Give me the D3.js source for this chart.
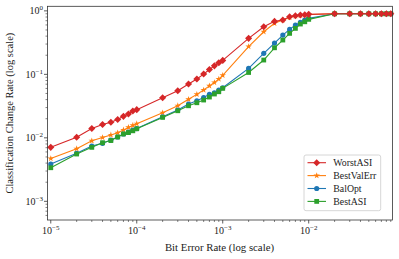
<!DOCTYPE html>
<html><head><meta charset="utf-8">
<script src="https://cdn.jsdelivr.net/npm/d3@7"></script>
<style>
body{margin:0;background:#fff;}
svg{display:block;font-family:"Liberation Serif","DejaVu Serif",serif;}
</style></head>
<body><svg id="c" width="399" height="259"></svg>
<script>
const bitErrorRates = [1e-5,2e-5,3e-5,4e-5,5e-5,6e-5,7e-5,8e-5,9e-5,
  1e-4,2e-4,3e-4,4e-4,5e-4,6e-4,7e-4,8e-4,9e-4,
  1e-3,2e-3,3e-3,4e-3,5e-3,6e-3,7e-3,8e-3,9e-3,
  1e-2,2e-2,3e-2,4e-2,5e-2,6e-2,7e-2,8e-2,9e-2];
const worstASI = [0.00708,0.0102,0.0140,0.0162,0.0176,0.0194,0.0218,0.0237,0.0264,
  0.0278,0.0427,0.0552,0.0703,0.0843,0.101,0.119,0.136,0.152,
  0.166,0.369,0.562,0.683,0.716,0.807,0.837,0.859,0.868,
  0.881,0.90,0.90,0.90,0.90,0.90,0.90,0.90,0.90];
const bestValErr = [0.00472,0.00673,0.00897,0.0101,0.0111,0.0120,0.0133,0.0146,0.0157,
  0.0167,0.0248,0.0320,0.0404,0.0484,0.0566,0.0659,0.0743,0.0843,
  0.0964,0.274,0.469,0.636,0.716,0.784,0.83,0.85,0.862,
  0.875,0.90,0.90,0.90,0.90,0.90,0.90,0.90,0.90];
const balOpt = [0.00387,0.00570,0.00743,0.00819,0.00923,0.0103,0.0115,0.0123,0.0133,
  0.0140,0.0215,0.0274,0.0341,0.0384,0.0431,0.0484,0.0513,0.0566,
  0.0615,0.124,0.214,0.311,0.416,0.511,0.598,0.659,0.716,
  0.762,0.90,0.90,0.90,0.90,0.90,0.90,0.90,0.90];
const bestASI = [0.00338,0.00556,0.00708,0.00838,0.00906,0.0103,0.0115,0.0121,0.0129,
  0.0139,0.0210,0.0267,0.0320,0.0357,0.0394,0.0439,0.0490,0.0532,
  0.0602,0.107,0.168,0.262,0.347,0.442,0.530,0.620,0.673,
  0.735,0.90,0.90,0.90,0.90,0.90,0.90,0.90,0.90];
const seriesNames = ["WorstASI","BestValErr","BalOpt","BestASI"];
const xMajorTicks = [1e-5,1e-4,1e-3,1e-2];
const xTickExponents = ["−5","−4","−3","−2"];
const yMajorTicks = [1,1e-1,1e-2,1e-3];
const yTickExponents = ["0","−1","−2","−3"];

const series = [
  {name:seriesNames[0], values:worstASI, color:"#d62728", shape:"diamond"},
  {name:seriesNames[1], values:bestValErr, color:"#ff7f0e", shape:"star"},
  {name:seriesNames[2], values:balOpt, color:"#1f77b4", shape:"circle"},
  {name:seriesNames[3], values:bestASI, color:"#2ca02c", shape:"square"}
];

const L=47.5, R=392.5, T=6.3, B=220;
const x = d3.scaleLog().domain([0.916e-5, 0.0943]).range([L,R]);
const y = d3.scaleLog().domain([5.08e-4, 1.18]).range([B,T]);
const svg = d3.select("#c");

function symbolPath(shape){
  if(shape==="diamond") return d3.symbol(d3.symbolSquare, 25)();
  if(shape==="star") return d3.symbol(d3.symbolStar, 13)();
  if(shape==="circle") return d3.symbol(d3.symbolCircle, 21)();
  return d3.symbol(d3.symbolSquare, 23)();
}
function symbolTransform(shape, px, py){
  return `translate(${px},${py})` + (shape==="diamond" ? " rotate(45)" : "");
}

const drawOrder = [1,2,3,0];
const line = d3.line().x((d,i)=>x(bitErrorRates[i])).y(d=>y(d));
const plot = svg.append("g");
drawOrder.forEach(k=>{
  const s = series[k];
  plot.append("path").attr("d", line(s.values)).attr("fill","none")
    .attr("stroke", s.color).attr("stroke-width",1.1);
  plot.selectAll(null).data(s.values).enter().append("path")
    .attr("d", symbolPath(s.shape))
    .attr("transform",(d,i)=>symbolTransform(s.shape, x(bitErrorRates[i]), y(d)))
    .attr("fill", s.color);
});

const axisColor="#333";
svg.append("rect").attr("x",L).attr("y",T).attr("width",R-L).attr("height",B-T)
  .attr("fill","none").attr("stroke",axisColor).attr("stroke-width",0.8);

const xDom=x.domain();
const gx = svg.append("g");
x.ticks(40).filter(t=>t>=xDom[0]&&t<=xDom[1]).forEach(t=>{
  const isMajor = xMajorTicks.some(m=>Math.abs(m-t)/m<1e-6);
  gx.append("line").attr("x1",x(t)).attr("x2",x(t)).attr("y1",B).attr("y2",B+(isMajor?3.5:2))
    .attr("stroke",axisColor).attr("stroke-width",isMajor?0.8:0.6);
});
xMajorTicks.forEach((t,i)=>{
  const tx = gx.append("text").attr("x",x(t)).attr("y",B+14).attr("text-anchor","middle")
    .attr("font-size",10).attr("fill","#222");
  tx.append("tspan").text("10");
  tx.append("tspan").attr("dy",-4.2).attr("font-size",7).text(xTickExponents[i]);
});

const gy = svg.append("g");
const yDom=y.domain();
y.ticks(40).filter(t=>t>=yDom[0]&&t<=yDom[1]).forEach(t=>{
  const isMajor = yMajorTicks.some(m=>Math.abs(m-t)/m<1e-6);
  gy.append("line").attr("x1",L).attr("x2",L-(isMajor?3.5:2)).attr("y1",y(t)).attr("y2",y(t))
    .attr("stroke",axisColor).attr("stroke-width",isMajor?0.8:0.6);
});
yMajorTicks.forEach((t,i)=>{
  const ty = gy.append("text").attr("x",L-4.5).attr("y",y(t)+3.5).attr("text-anchor","end")
    .attr("font-size",10).attr("fill","#222");
  ty.append("tspan").text("10");
  ty.append("tspan").attr("dy",-4.2).attr("font-size",7).text(yTickExponents[i]);
});

svg.append("text").attr("x",(L+R)/2-0.5).attr("y",251).attr("text-anchor","middle")
  .attr("font-size",10.8).attr("fill","#222").text("Bit Error Rate (log scale)");
svg.append("text").attr("transform",`translate(13,${(T+B)/2}) rotate(-90)`)
  .attr("text-anchor","middle").attr("font-size",10.5).attr("fill","#222")
  .text("Classification Change Rate (log scale)");

const lg = svg.append("g");
lg.append("rect").attr("x",304).attr("y",155).attr("width",76.7).attr("height",55.7)
  .attr("rx",2).attr("fill","#fff").attr("fill-opacity",0.8).attr("stroke","#ccc").attr("stroke-width",0.8);
series.forEach((s,i)=>{
  const ly = 162.7 + i*12.9;
  lg.append("line").attr("x1",307.5).attr("x2",326).attr("y1",ly).attr("y2",ly)
    .attr("stroke",s.color).attr("stroke-width",1.1);
  lg.append("path").attr("d",symbolPath(s.shape)).attr("transform",symbolTransform(s.shape,316.7,ly))
    .attr("fill",s.color);
  lg.append("text").attr("x",333.3).attr("y",ly+3.3).attr("font-size",9.8).attr("fill","#222").text(s.name);
});
</script></body></html>
